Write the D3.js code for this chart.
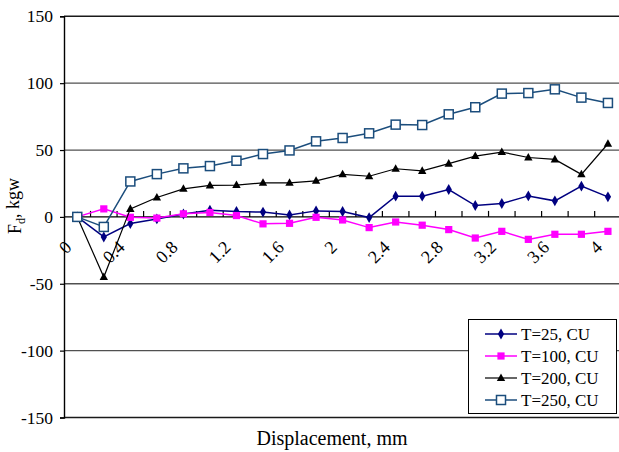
<!DOCTYPE html>
<html>
<head>
<meta charset="utf-8">
<script src="https://cdn.jsdelivr.net/npm/d3@7/dist/d3.min.js"></script>
<style>
  html, body { margin: 0; padding: 0; background: #fff; }
  svg { display: block; }
  text { font-family: "Liberation Serif", "Times New Roman", serif; fill: #000; }
</style>
</head>
<body>
<svg id="chart" width="619" height="452" font-family="Liberation Serif"></svg>
<script>
// Displacement categories (mm)
const displacement = [0, 0.2, 0.4, 0.6, 0.8, 1.0, 1.2, 1.4, 1.6, 1.8, 2.0,
                      2.2, 2.4, 2.6, 2.8, 3.0, 3.2, 3.4, 3.6, 3.8, 4.0];
// Labels shown under every other category
const xTickLabels = ["0", "0.4", "0.8", "1.2", "1.6", "2", "2.4", "2.8", "3.2", "3.6", "4"];
const yTicks = [-150, -100, -50, 0, 50, 100, 150];

// Force F_d (kgw) per series
const seriesNames = ["T=25, CU", "T=100, CU", "T=200, CU", "T=250, CU"];
const t25  = [0, -15, -5, -1.5, 2.2, 5, 4, 3.6, 1.5, 4.5, 4, -0.5, 15.5, 15.5, 20.5, 8.5, 10, 15.7, 12, 23, 15];
const t100 = [0, 6, -0.3, -0.9, 2.3, 3.3, 1, -5.2, -4.8, -0.3, -2.3, -8, -3.8, -6.2, -9.5, -15.8, -10.8, -16.8, -13, -13, -10.8];
const t200 = [0, -45, 6, 14.5, 21, 23.5, 23.8, 25.5, 25.5, 27, 31.8, 30.4, 36, 34.4, 39.8, 45.5, 48.5, 44.4, 43, 31.8, 54.7];
const t250 = [0, -7.5, 26.5, 32, 36.3, 38, 42, 47, 49.7, 56.5, 59, 62.5, 69, 68.7, 76.7, 82, 92.2, 92.6, 95.4, 89.2, 85.2];

const seriesValues = [t25, t100, t200, t250];
const seriesColors = ["#000080", "#ff00ff", "#000000", "#1b4d7c"];
const seriesMarkers = ["diamond", "filledSquare", "triangle", "openSquare"];

const svg = d3.select("#chart");
const plot = { left: 64, right: 621.2, top: 16.3, bottom: 417.5 };

const x = d3.scaleBand()
  .domain(displacement.map(String))
  .range([plot.left, plot.right])
  .padding(0);
const y = d3.scaleLinear().domain([-150, 150]).range([plot.bottom, plot.top]);
const cx = d => x(String(d)) + x.bandwidth() / 2;

// Horizontal gridlines
svg.append("g")
  .selectAll("line")
  .data(yTicks.filter(v => v !== 0))
  .join("line")
  .attr("x1", plot.left).attr("x2", 619)
  .attr("y1", d => y(d)).attr("y2", d => y(d))
  .attr("stroke", d => (Math.abs(d) === 150 ? "#1a1a1a" : "#505050"))
  .attr("stroke-width", d => (Math.abs(d) === 150 ? 1.4 : 1.3));

// Left value axis
const yAxis = d3.axisLeft(y).tickValues(yTicks).tickSize(4).tickPadding(7)
  .tickFormat(d => String(d));
const yg = svg.append("g").attr("transform", `translate(${plot.left},0)`).call(yAxis);
yg.select(".domain").attr("stroke", "#000").attr("stroke-width", 1.4);
yg.selectAll(".tick line").attr("stroke", "#000").attr("stroke-width", 1.2);
yg.selectAll(".tick text")
  .attr("fill", "#000")
  .style("font-family", "'Liberation Serif', serif")
  .style("font-size", "17.5px");

// Category axis along the zero line, ticks between categories pointing up
const y0 = y(0);
svg.append("line")
  .attr("x1", plot.left).attr("x2", 619)
  .attr("y1", y0).attr("y2", y0)
  .attr("stroke", "#000").attr("stroke-width", 1.4);
svg.append("g")
  .selectAll("line")
  .data(displacement)
  .join("line")
  .attr("x1", d => x(String(d)) + x.bandwidth())
  .attr("x2", d => x(String(d)) + x.bandwidth())
  .attr("y1", y0 - 6).attr("y2", y0)
  .attr("stroke", "#000").attr("stroke-width", 1.2);

// Rotated category labels (every other category)
const labelled = displacement.filter((d, i) => i % 2 === 0);
svg.append("g")
  .selectAll("text")
  .data(labelled)
  .join("text")
  .attr("transform", d => `translate(${cx(d) - 9},${y0 + 27}) rotate(-45)`)
  .attr("text-anchor", "end")
  .attr("dy", "0.35em")
  .style("font-family", "'Liberation Serif', serif")
  .style("font-size", "18px")
  .text((d, i) => xTickLabels[i]);

// Series lines and markers
const line = d3.line().x((v, i) => cx(displacement[i])).y(v => y(v));

function drawMarker(g, type, color, px, py) {
  if (type === "diamond") {
    g.append("path")
      .attr("d", d3.symbol(d3.symbolDiamond, 34)())
      .attr("transform", `translate(${px},${py})`)
      .attr("fill", color);
  } else if (type === "filledSquare") {
    g.append("rect")
      .attr("x", px - 3.6).attr("y", py - 3.6)
      .attr("width", 7.2).attr("height", 7.2)
      .attr("fill", color);
  } else if (type === "triangle") {
    g.append("path")
      .attr("d", `M${px},${py - 4.6}L${px + 4.2},${py + 3}L${px - 4.2},${py + 3}Z`)
      .attr("fill", color);
  } else {
    g.append("rect")
      .attr("x", px - 4.5).attr("y", py - 4.5)
      .attr("width", 9).attr("height", 9)
      .attr("fill", "#fff")
      .attr("stroke", color).attr("stroke-width", 1.5);
  }
}

seriesValues.forEach((vals, s) => {
  const g = svg.append("g");
  g.append("path")
    .datum(vals)
    .attr("d", line)
    .attr("fill", "none")
    .attr("stroke", seriesColors[s])
    .attr("stroke-width", s === 2 ? 1.2 : 1.5);
  vals.forEach((v, i) => drawMarker(g, seriesMarkers[s], seriesColors[s], cx(displacement[i]), y(v)));
});

// Legend
const legend = svg.append("g");
legend.append("rect")
  .attr("x", 468.5).attr("y", 319.5)
  .attr("width", 148).attr("height", 94)
  .attr("fill", "#fff").attr("stroke", "#000").attr("stroke-width", 1);
seriesNames.forEach((name, s) => {
  const ly = 334 + s * 22;
  legend.append("line")
    .attr("x1", 485).attr("x2", 517)
    .attr("y1", ly).attr("y2", ly)
    .attr("stroke", seriesColors[s]).attr("stroke-width", s === 2 ? 1.2 : 1.5);
  drawMarker(legend, seriesMarkers[s], seriesColors[s], 501, ly);
  legend.append("text")
    .attr("x", 521).attr("y", ly)
    .attr("dy", "0.35em")
    .style("font-family", "'Liberation Serif', serif")
    .style("font-size", "17px")
    .text(name);
});

// Axis titles
svg.append("text")
  .attr("x", 332).attr("y", 445)
  .attr("text-anchor", "middle")
  .style("font-family", "'Liberation Serif', serif")
  .style("font-size", "20px")
  .text("Displacement, mm");

const yTitle = svg.append("text")
  .attr("transform", "translate(21,206) rotate(-90)")
  .attr("text-anchor", "middle")
  .style("font-family", "'Liberation Serif', serif")
  .style("font-size", "18px");
yTitle.append("tspan").text("F");
yTitle.append("tspan").attr("dy", "0.3em").style("font-size", "12px").text("d");
yTitle.append("tspan").attr("dy", "-0.3em").text(", kgw");
</script>
</body>
</html>
